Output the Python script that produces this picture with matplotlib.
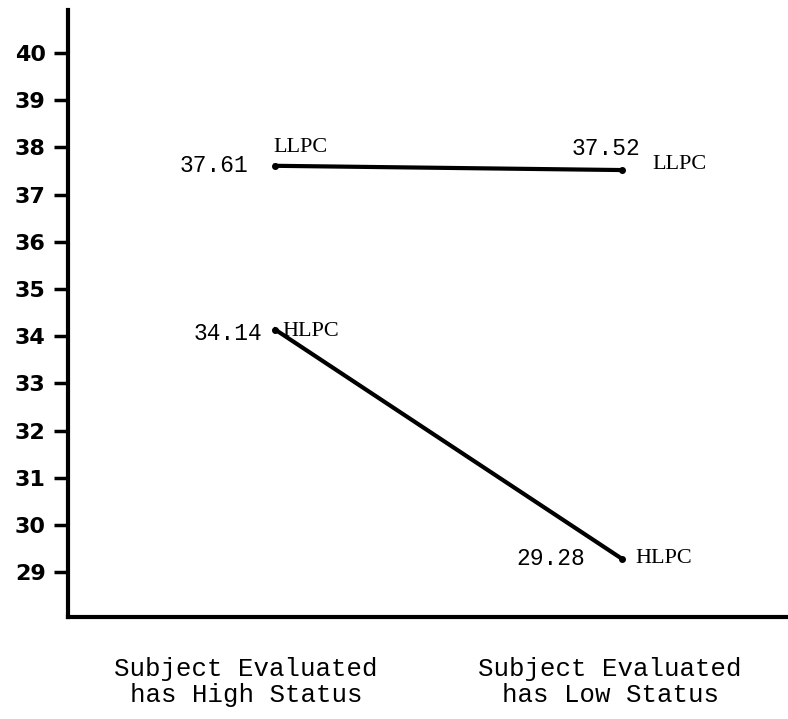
import matplotlib.pyplot as plt

# data
conditions = ['Subject Evaluated\nhas High Status', 'Subject Evaluated\nhas Low Status']
llpc = [37.61, 37.52]
hlpc = [34.14, 29.28]
yticks = list(range(29, 41))

fig = plt.figure(figsize=(7.88, 7.19), dpi=100)
ax = fig.add_axes([0.0863, 0.1419, 0.9137, 0.8441])

x = [0, 1]
ax.plot(x, llpc, color='black', lw=3, marker='o', ms=4)
ax.plot(x, hlpc, color='black', lw=3, marker='o', ms=4)

ax.set_xlim(-0.597, 1.478)
ax.set_ylim(28.05, 40.91)

for s in ['top', 'right']:
    ax.spines[s].set_visible(False)
for s in ['left', 'bottom']:
    ax.spines[s].set_linewidth(3)

ax.set_yticks(yticks)
ax.set_yticklabels([str(t) for t in yticks], fontsize=16, fontweight='bold',
                   family='DejaVu Sans')
ax.tick_params(axis='y', length=10, width=2.5, pad=6)
ax.set_xticks([])

mono = dict(family='Liberation Mono', fontsize=16.5)
serif = dict(family='Liberation Serif', fontsize=16)

def lab(txt, xy, dx, dy, ha, props):
    ax.annotate(txt, xy=xy, xytext=(dx, -dy), textcoords='offset pixels',
                ha=ha, va='center', **props)

# value labels and group names beside each point
lab('%.2f' % llpc[0], (0, llpc[0]), -27, 0, 'right', mono)
lab('LLPC', (0, llpc[0]), -2, -18, 'left', serif)
lab('%.2f' % llpc[1], (1, llpc[1]), 18, -22, 'right', mono)
lab('LLPC', (1, llpc[1]), 30, -6, 'left', serif)
lab('%.2f' % hlpc[0], (0, hlpc[0]), -13, 4, 'right', mono)
lab('HLPC', (0, hlpc[0]), 7, 2, 'left', serif)
lab('%.2f' % hlpc[1], (1, hlpc[1]), -37, 0, 'right', mono)
lab('HLPC', (1, hlpc[1]), 13, 0, 'left', serif)

for xc, name in zip([246, 610], conditions):
    fig.text(xc / 788, 1 - 682 / 719, name, ha='center', va='center',
             family='Liberation Mono', fontsize=18.5, linespacing=1.15)

fig.savefig('out.png', dpi=100)
